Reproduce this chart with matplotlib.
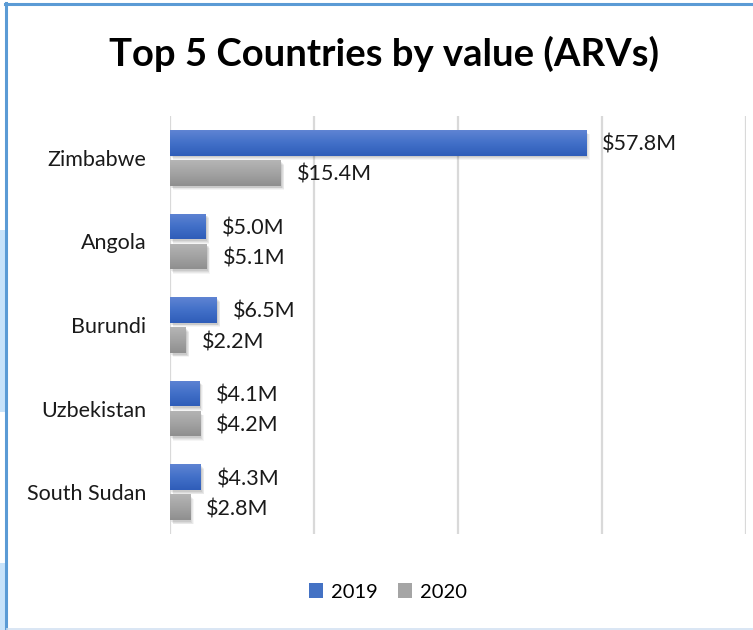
import numpy as np
import matplotlib
matplotlib.use("Agg")
import matplotlib.pyplot as plt
from matplotlib.patches import Rectangle
from matplotlib import patheffects as pe
from matplotlib.colors import LinearSegmentedColormap

plt.rcParams['font.family'] = ['Lato', 'DejaVu Sans']

countries = ["Zimbabwe", "Angola", "Burundi", "Uzbekistan", "South Sudan"]
values_2019 = [57.8, 5.0, 6.5, 4.1, 4.3]
values_2020 = [15.4, 5.1, 2.2, 4.2, 2.8]
series_names = ["2019", "2020"]
x_ticks = [0, 20, 40, 60, 80]

W, H = 753, 630
fig = plt.figure(figsize=(W / 100, H / 100), dpi=100)
fig.patch.set_facecolor("white")

def fx(px):
    return px / W

def fy(py):
    return 1 - py / H

ax = fig.add_axes([fx(170), fy(534), fx(746) - fx(170), fy(116) - fy(534)])
ax.set_xlim(0, 80)
ax.set_ylim(4.5, -0.5)
ax.set_facecolor("none")
for s in ax.spines.values():
    s.set_visible(False)
ax.set_xticks(x_ticks)
ax.set_xticklabels([])
ax.tick_params(axis="x", length=0)
ax.xaxis.grid(True, color="#d9d9d9", linewidth=1.6)
ax.set_axisbelow(True)
ax.set_yticks(range(len(countries)))
ax.set_yticklabels(countries, fontsize=15.5, color="#1a1a1a")
ax.tick_params(axis="y", length=0, pad=17)

y = np.arange(len(countries))
h = 0.305
off = 0.18

blue_cmap = LinearSegmentedColormap.from_list("b", ["#5f84d3", "#4270c8", "#2f5db9"])
gray_cmap = LinearSegmentedColormap.from_list("g", ["#b5b5b5", "#a3a3a3", "#8f8f8f"])

shadow = [pe.SimplePatchShadow(offset=(dx, dy), shadow_rgbFace="black", alpha=a)
          for dx, dy, a in [(2.5, -3.2, 0.04), (2.0, -2.6, 0.05), (1.4, -2.0, 0.06),
                            (0.8, -1.4, 0.07)]] + [pe.Normal()]

grad = np.linspace(0, 1, 64).reshape(-1, 1)

def draw_series(vals, yc, cmap, face):
    bars = ax.barh(yc, vals, height=h, color=face, edgecolor="none", zorder=3)
    for b in bars:
        b.set_path_effects(shadow)
        x0, y0 = b.get_x(), b.get_y()
        w, hh = b.get_width(), b.get_height()
        im = ax.imshow(grad, cmap=cmap, aspect="auto",
                       extent=(x0, x0 + w, y0 + hh, y0), zorder=4,
                       interpolation="bilinear")
        im.set_clip_path(b)
    for v, yy in zip(vals, yc):
        ax.annotate(f"${v:.1f}M", xy=(v, yy), xytext=(16, -2),
                    textcoords="offset pixels", va="center", ha="left",
                    fontsize=15.5, color="#1a1a1a", zorder=5)
    return bars

draw_series(values_2019, y - off, blue_cmap, "#4472c4")
draw_series(values_2020, y + off, gray_cmap, "#a5a5a5")
ax.set_xlim(0, 80)
ax.set_ylim(4.5, -0.5)

fig.text(fx(384), fy(54), "Top 5 Countries by value (ARVs)", ha="center", va="center",
         fontsize=27.5, fontweight="bold", color="black")

handles = [Rectangle((0, 0), 1, 1, facecolor="#4472c4"),
           Rectangle((0, 0), 1, 1, facecolor="#a5a5a5")]
fig.legend(handles, series_names, loc="center", bbox_to_anchor=(fx(388), fy(592)),
           ncol=2, frameon=False, fontsize=14.5, handlelength=0.7, handleheight=0.7,
           handletextpad=0.4, columnspacing=1.0)

# chart frame
fig.add_artist(Rectangle((fx(0), fy(412)), fx(5), fy(230) - fy(412), transform=fig.transFigure,
                         facecolor="#c8e3fa", edgecolor="none"))
fig.add_artist(Rectangle((fx(0), fy(630)), fx(5), fy(563) - fy(630), transform=fig.transFigure,
                         facecolor="#c8e3fa", edgecolor="none"))
fig.add_artist(plt.Line2D([fx(6), fx(6)], [fy(3), fy(630)], transform=fig.transFigure,
                          color="#5b9bd5", linewidth=2.2))
fig.add_artist(plt.Line2D([fx(5), fx(753)], [fy(4), fy(4)], transform=fig.transFigure,
                          color="#5b9bd5", linewidth=2.2))
fig.add_artist(plt.Line2D([fx(7), fx(753)], [fy(629), fy(629)], transform=fig.transFigure,
                          color="#d3e2f2", linewidth=1.2))

fig.savefig("out.png", dpi=100)
